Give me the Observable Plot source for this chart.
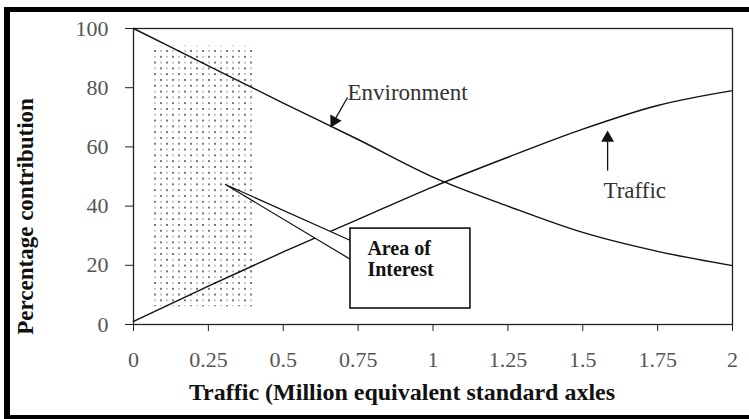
<!DOCTYPE html>
<html>
<head>
<meta charset="utf-8">
<script src="https://cdn.jsdelivr.net/npm/d3@7"></script>
<script src="https://cdn.jsdelivr.net/npm/@observablehq/plot@0.6"></script>
<style>
  html, body { margin: 0; padding: 0; background: white; overflow: hidden; }
  #wrap { position: relative; width: 749px; height: 419px; overflow: hidden; background: white; }
  #wrap svg { position: absolute; left: 0; top: 0; }
  #border { position: absolute; left: 4px; top: 7px; width: 820px; height: 414px; border: 6px solid #000; border-top-width: 5px; border-right: none; box-sizing: border-box; pointer-events: none; }
</style>
</head>
<body>
<div id="wrap"><div id="border"></div></div>
<script>
// ---- data ----
const xValues = [0, 0.25, 0.5, 0.75, 1, 1.25, 1.5, 1.75, 2];
const environment = [100, 87.4, 74.8, 62.5, 49.8, 40.0, 31.1, 24.7, 19.9];
const traffic = [1, 13, 24.5, 35.5, 46.5, 56.5, 66, 74, 79];
const xTicks = [0, 0.25, 0.5, 0.75, 1, 1.25, 1.5, 1.75, 2];
const xTickLabels = ["0", "0.25", "0.5", "0.75", "1", "1.25", "1.5", "1.75", "2"];
const yTicks = [0, 20, 40, 60, 80, 100];
const xTitle = "Traffic (Million equivalent standard axles";
const yTitle = "Percentage contribution";
const yTitleAt = 36.5;
// shaded area of interest (x1, x2, y1, y2)
const areaX = [0.06, 0.4];
const areaY = [6, 94];
// callout box and wedge
const boxX = [0.7245, 1.125];
const boxY = [5.4, 32.4];
const boxLines = ["Area of", "Interest"];
const boxLineX = [0.781, 0.781];
const boxLineY = [25.5, 18.4];
const wedgeX = [0.307, 0.7245, 0.7245, 0.307];
const wedgeY = [47.3, 28.4, 22.0, 47.3];
// curve labels and arrows
const curveLabels = ["Environment", "Traffic"];
const curveLabelX = [0.7145, 1.569];
const curveLabelY = [78.4, 45.3];
const arrowFromX = [0.7145, 1.583];
const arrowFromY = [76.7, 52.0];
const arrowHeadX = [0.670, 1.583];
const arrowHeadY = [68.8, 63.0];
const arrowRotate = [209, 0];

// ---- tables ----
const envData = xValues.map((x, i) => ({x, y: environment[i]}));
const trafData = xValues.map((x, i) => ({x, y: traffic[i]}));
const wedge = wedgeX.map((x, i) => ({x, y: wedgeY[i]}));
const boxText = boxLines.map((t, i) => ({t, x: boxLineX[i], y: boxLineY[i]}));
const labels = curveLabels.map((t, i) => ({t, x: curveLabelX[i], y: curveLabelY[i]}));
const arrows = arrowFromX.map((x1, i) => ({x1, y1: arrowFromY[i], x2: arrowHeadX[i], y2: arrowHeadY[i], r: arrowRotate[i]}));

const svg = Plot.plot({
  width: 749,
  height: 419,
  marginLeft: 133,
  marginRight: 17,
  marginTop: 28,
  marginBottom: 95,
  style: {fontFamily: "'Liberation Serif', 'Times New Roman', serif", fontSize: "22px", background: "transparent", color: "#111"},
  x: {domain: [0, 2]},
  y: {domain: [0, 100]},
  marks: [
    Plot.rect([0], {x1: areaX[0], x2: areaX[1], y1: areaY[0], y2: areaY[1], fill: "url(#dotpat)"}),
    Plot.axisX({ticks: xTicks, tickFormat: (d) => xTickLabels[xTicks.indexOf(d)], tickSize: 7, tickPadding: 20, fill: "#555", stroke: "#222", label: null}),
    Plot.axisY({ticks: yTicks, tickSize: 8, tickPadding: 17, fill: "#555", stroke: "#222", label: null}),
    Plot.frame({stroke: "#222", strokeWidth: 1.3}),
    Plot.line(envData, {x: "x", y: "y", curve: "monotone-x", stroke: "#111", strokeWidth: 1.4}),
    Plot.line(trafData, {x: "x", y: "y", curve: "monotone-x", stroke: "#111", strokeWidth: 1.4}),
    Plot.line(wedge, {x: "x", y: "y", fill: "white", stroke: "#111", strokeWidth: 1.2}),
    Plot.rect([0], {x1: boxX[0], x2: boxX[1], y1: boxY[0], y2: boxY[1], fill: "white", stroke: "#111", strokeWidth: 1.6}),
    Plot.text(boxText, {x: "x", y: "y", text: "t", textAnchor: "start", fontWeight: "bold", fontSize: 20, fill: "#111"}),
    Plot.text(labels, {x: "x", y: "y", text: "t", textAnchor: "start", fontSize: 23, fill: "#333"}),
    Plot.link(arrows, {x1: "x1", y1: "y1", x2: "x2", y2: "y2", stroke: "#111", strokeWidth: 1.3}),
    Plot.dot(arrows, {x: "x2", y: "y2", symbol: "triangle", r: 4.8, fill: "#111", stroke: "none", rotate: "r"}),
    Plot.text([xTitle], {text: (d) => d, frameAnchor: "bottom", textAnchor: "middle", dy: 75, dx: -31, fontWeight: "bold", fontSize: 24, fill: "#111"}),
    Plot.text([yTitle], {text: (d) => d, y: () => yTitleAt, frameAnchor: "left", textAnchor: "middle", lineAnchor: "middle", rotate: -90, dx: -108, fontWeight: "bold", fontSize: 23, fill: "#111"})
  ]
});

// dotted texture for the area of interest
const defs = d3.select(svg).insert("defs", ":first-child");
const pat = defs.append("pattern").attr("id", "dotpat").attr("patternUnits", "userSpaceOnUse")
  .attr("x", 154).attr("y", 50).attr("width", 12).attr("height", 11.6);
[[1, 1, "#333"], [7, 1, "#aaa"], [1, 6.8, "#aaa"], [7, 6.8, "#333"]].forEach(([cx, cy, c]) => {
  pat.append("circle").attr("cx", cx).attr("cy", cy).attr("r", 0.9).attr("fill", c);
});

const wrap = document.getElementById("wrap");
wrap.insertBefore(svg, wrap.firstChild);
</script>
</body>
</html>
